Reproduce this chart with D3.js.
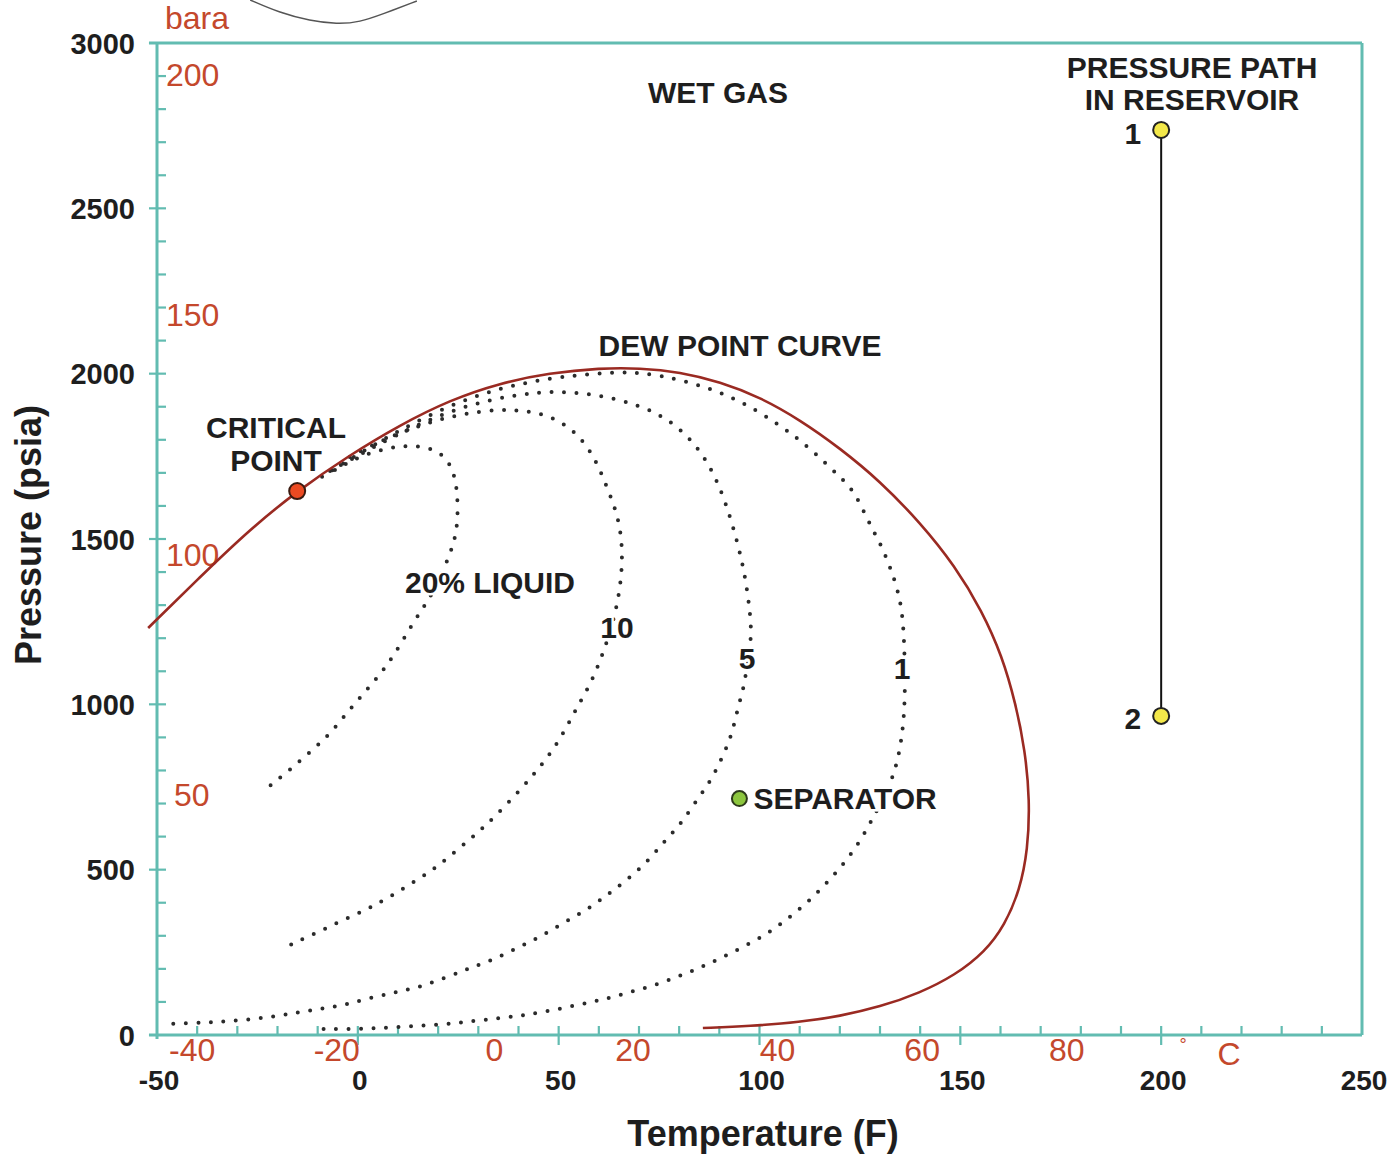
<!DOCTYPE html>
<html><head><meta charset="utf-8">
<script src="https://cdn.jsdelivr.net/npm/d3@7"></script>
<style>
body{margin:0;background:#fff}
svg{display:block}
text{font-family:"Liberation Sans",Arial,Helvetica,sans-serif}
</style>
</head><body>
<svg id="chart" width="1391" height="1157"></svg>
<script>
// ---- tick labels ----
const fTicks = [-50, 0, 50, 100, 150, 200, 250];      // Temperature (F)
const cTicks = [-40, -20, 0, 20, 40, 60, 80];          // deg C
const pTicks = [0, 500, 1000, 1500, 2000, 2500, 3000]; // psia
const barTicks = [50, 100, 150, 200];                  // bara

// ---- curves [T (F), P (psia)] ----
const dewPointCurve = [
  [-52.2,1231],[-39.3,1385],[-26.8,1530],[-15.1,1645],[-2.0,1754],[10.5,1845],[22.9,1920],
  [35.4,1972],[47.8,2002],[60.3,2017],[70.2,2017],[80.2,2005],[90.2,1975],[100.1,1929],
  [110.1,1860],[120.0,1775],[130.0,1675],[139.9,1551],[148.7,1418],[155.4,1282],[160.4,1146],
  [163.8,1001],[166.1,862],[167.3,711],[166.8,559],[164.8,439],[161.1,333],[156.1,251],
  [148.7,181],[139.9,127],[130.0,85],[120.0,57],[110.1,39],[97.6,27],[85.9,21]
];
const liquid20 = [
  [-5.7,1709],[0.5,1751],[8.0,1778],[14.2,1784],[20.0,1769],[23.4,1724],[24.9,1648],[24.9,1527],
  [22.9,1452],[19.7,1361],[17.2,1309],[13.7,1246],[8.8,1143],[4.8,1080],[0.5,1020],[-3.7,959],
  [-7.7,901],[-12.7,847],[-17.6,795],[-22.6,747]
];
const liquid10 = [
  [-2.0,1748],[5.5,1796],[15.5,1845],[25.4,1878],[35.4,1893],[42.9,1887],[49.1,1866],[54.1,1824],
  [57.8,1769],[60.3,1709],[62.3,1648],[64.5,1579],[65.8,1497],[65.8,1397],[64.5,1294],[62.3,1195],
  [58.5,1074],[55.3,1007],[52.3,938],[49.1,871],[45.3,810],[41.1,750],[34.1,659],[29.7,611],
  [24.7,559],[19.7,508],[14.7,469],[8.7,423],[3.5,387],[-2.0,357],[-7.7,324],[-12.7,296],[-16.9,272]
];
const liquid5 = [
  [-6.9,1706],[3.0,1772],[15.5,1851],[27.9,1908],[40.4,1939],[50.3,1948],[60.3,1935],[70.2,1905],
  [77.7,1860],[83.9,1790],[88.2,1709],[91.4,1618],[94.4,1497],[96.4,1391],[97.6,1285],[98.1,1204],
  [96.9,1128],[96.4,1065],[94.6,989],[93.1,907],[90.7,838],[87.7,765],[83.9,702],[80.2,635],
  [76.0,581],[72.0,523],[67.0,469],[62.0,423],[57.0,378],[51.1,339],[45.3,296],[39.6,263],
  [33.6,227],[27.9,203],[22.2,175],[15.5,145],[9.7,130],[3.0,112],[-3.2,91],[-9.4,79],
  [-15.6,67],[-21.9,54],[-28.6,45],[-35.1,39],[-41.3,36],[-49.0,33]
];
const liquid1 = [
  [-8.9,1688],[0.5,1760],[10.5,1830],[22.9,1905],[35.4,1957],[47.8,1987],[60.3,2002],[67.7,2005],
  [75.2,1996],[85.2,1966],[95.1,1920],[105.1,1845],[112.6,1775],[120.0,1688],[123.3,1648],
  [125.8,1588],[128.2,1527],[130.5,1476],[132.5,1415],[134.2,1355],[135.5,1285],[136.0,1195],
  [136.2,1104],[136.2,1013],[135.7,922],[134.5,832],[132.5,756],[130.0,696],[128.2,656],
  [125.0,584],[121.3,523],[117.0,463],[112.6,408],[107.6,357],[102.6,311],[96.9,272],[90.9,236],
  [85.2,203],[79.4,175],[73.2,148],[67.0,127],[60.8,106],[54.6,91],[47.8,73],[41.6,60],
  [35.4,51],[28.7,42],[22.2,33],[10.5,24],[0.5,18],[-9.4,18]
];
const scanArc = [[-26.8,3130],[-19.4,3091],[-11.9,3067],[-5.2,3057],[0.5,3063],[6.3,3088],[14.7,3127]];

const criticalPoint = [-15.1, 1645];
const separatorPoint = [95, 715];
const reservoirPath = [[200, 2737], [200, 965]];
const reservoirLabels = ["1", "2"];

// ---- chart ----
const svg = d3.select("#chart");
const W = 1391, H = 1157;
const x = d3.scaleLinear().domain([-50, 250]).range([157, 1362]);
const y = d3.scaleLinear().domain([0, 3000]).range([1035, 43]);
const fToC = c => c * 9 / 5 + 32;
const barToPsi = b => b * 14.5038;

const teal = "#62bcb1", red = "#c4482c", dewColor = "#9a2a22", ink = "#1e1e1e";
const LAB = 30;

svg.append("rect").attr("width", W).attr("height", H).attr("fill", "#fff");

// scan arc artifact above the chart
svg.append("path").datum(scanArc)
  .attr("d", d3.line().x(d => x(d[0])).y(d => y(d[1])).curve(d3.curveBasis))
  .attr("fill", "none").attr("stroke", "#555").attr("stroke-width", 1.5);

// frame
const g = svg.append("g");
g.append("line").attr("x1", x(-52)).attr("x2", x(250)).attr("y1", y(3000)).attr("y2", y(3000))
  .attr("stroke", teal).attr("stroke-width", 3);
g.append("line").attr("x1", x(250)).attr("x2", x(250)).attr("y1", y(3000)).attr("y2", y(0))
  .attr("stroke", teal).attr("stroke-width", 3);
g.append("line").attr("x1", x(-52)).attr("x2", x(250)).attr("y1", y(0)).attr("y2", y(0))
  .attr("stroke", teal).attr("stroke-width", 3);
g.append("line").attr("x1", x(-50)).attr("x2", x(-50)).attr("y1", y(3000)).attr("y2", y(0) + 4)
  .attr("stroke", teal).attr("stroke-width", 3);

// y ticks (every 100 psia, major every 500)
g.selectAll(".yt").data(d3.range(100, 3000, 100)).join("line")
  .attr("x1", d => d % 500 === 0 ? x(-50) - 8 : x(-50))
  .attr("x2", x(-50) + 9)
  .attr("y1", d => y(d)).attr("y2", d => y(d))
  .attr("stroke", teal).attr("stroke-width", 2.2);
// x ticks (every 10 F, major every 50)
g.selectAll(".xt").data(d3.range(-40, 250, 10)).join("line")
  .attr("x1", d => x(d)).attr("x2", d => x(d))
  .attr("y1", y(0) - 9)
  .attr("y2", d => d % 50 === 0 ? y(0) + 10 : y(0))
  .attr("stroke", teal).attr("stroke-width", 2.2);

// black tick labels
g.selectAll(".pl").data(pTicks).join("text")
  .attr("x", 135).attr("y", d => y(d) + 3)
  .attr("text-anchor", "end").attr("dominant-baseline", "middle")
  .attr("font-size", 29).attr("font-weight", "bold").attr("fill", ink)
  .text(d => d);
g.selectAll(".fl").data(fTicks).join("text")
  .attr("x", d => x(d) + 2).attr("y", 1083)
  .attr("text-anchor", "middle").attr("dominant-baseline", "middle")
  .attr("font-size", 28).attr("font-weight", "bold").attr("fill", ink)
  .text(d => d);

// red secondary labels
g.selectAll(".cl").data(cTicks).join("text")
  .attr("x", d => x(fToC(d)) + (d < 0 ? -5 : d === 0 ? 8 : 2)).attr("y", 1053)
  .attr("text-anchor", "middle").attr("dominant-baseline", "middle")
  .attr("font-size", 32).attr("fill", red)
  .text(d => d);
g.selectAll(".bl").data(barTicks).join("text")
  .attr("x", d => d === 50 ? 174 : 166).attr("y", d => y(barToPsi(d)) + 2)
  .attr("dominant-baseline", "middle")
  .attr("font-size", 32).attr("fill", red)
  .text(d => d);
svg.append("text").attr("x", 165).attr("y", 21).attr("dominant-baseline", "middle")
  .attr("font-size", 32).attr("fill", red).text("bara");
svg.append("text").attr("x", 1183).attr("y", 1046).attr("text-anchor", "middle")
  .attr("dominant-baseline", "middle").attr("font-size", 18).attr("fill", red).text("°");
svg.append("text").attr("x", 1229).attr("y", 1057).attr("text-anchor", "middle")
  .attr("dominant-baseline", "middle").attr("font-size", 32).attr("fill", red).text("C");

// axis titles
svg.append("text").attr("x", 763).attr("y", 1136).attr("text-anchor", "middle")
  .attr("dominant-baseline", "middle").attr("font-size", 36).attr("font-weight", "bold")
  .attr("fill", ink).text("Temperature (F)");
svg.append("text").attr("transform", `translate(31,535) rotate(-90)`).attr("text-anchor", "middle")
  .attr("dominant-baseline", "middle").attr("font-size", 36).attr("font-weight", "bold")
  .attr("fill", ink).text("Pressure (psia)");

// dotted quality lines
const line = d3.line().x(d => x(d[0])).y(d => y(d[1])).curve(d3.curveBasis);
[liquid20, liquid10, liquid5, liquid1].forEach(s => {
  svg.append("path").datum(s).attr("d", line)
    .attr("fill", "none").attr("stroke", "#2b2b2b").attr("stroke-width", 4)
    .attr("stroke-linecap", "round").attr("stroke-dasharray", "0 12.5");
});

// dew point / bubble curve
svg.append("path").datum(dewPointCurve).attr("d", line)
  .attr("fill", "none").attr("stroke", dewColor).attr("stroke-width", 2.6);

// reservoir path
svg.append("line")
  .attr("x1", x(reservoirPath[0][0])).attr("y1", y(reservoirPath[0][1]))
  .attr("x2", x(reservoirPath[1][0])).attr("y2", y(reservoirPath[1][1]))
  .attr("stroke", "#111").attr("stroke-width", 2);
svg.selectAll(".rp").data(reservoirPath).join("circle")
  .attr("cx", d => x(d[0])).attr("cy", d => y(d[1])).attr("r", 8)
  .attr("fill", "#f3e84a").attr("stroke", "#222").attr("stroke-width", 2);
svg.selectAll(".rpl").data(reservoirPath).join("text")
  .attr("x", d => x(d[0]) - 20).attr("y", (d, i) => y(d[1]) + (i === 0 ? 6 : 5))
  .attr("text-anchor", "end").attr("dominant-baseline", "middle")
  .attr("font-size", LAB).attr("font-weight", "bold").attr("fill", ink)
  .text((d, i) => reservoirLabels[i]);

// critical point & separator
svg.append("circle").attr("cx", x(criticalPoint[0])).attr("cy", y(criticalPoint[1])).attr("r", 8)
  .attr("fill", "#ec4a22").attr("stroke", "#3a1a10").attr("stroke-width", 2);
svg.append("circle").attr("cx", x(separatorPoint[0])).attr("cy", y(separatorPoint[1])).attr("r", 7.5)
  .attr("fill", "#8cc63e").attr("stroke", "#2d3a1a").attr("stroke-width", 2);

// annotations (white halo hides dots behind the text, as in the original)
const labels = [
  {t: "WET GAS", x: 718, y: 95},
  {t: "PRESSURE PATH", x: 1192, y: 70},
  {t: "IN RESERVOIR", x: 1192, y: 102},
  {t: "DEW POINT CURVE", x: 740, y: 348},
  {t: "CRITICAL", x: 276, y: 430},
  {t: "POINT", x: 276, y: 463},
  {t: "20% LIQUID", x: 490, y: 585},
  {t: "10", x: 617, y: 630},
  {t: "5", x: 747, y: 661},
  {t: "1", x: 902, y: 671}
];
svg.selectAll(".lab").data(labels).join("text")
  .attr("x", d => d.x).attr("y", d => d.y)
  .attr("text-anchor", "middle").attr("dominant-baseline", "middle")
  .attr("font-size", LAB).attr("font-weight", "bold").attr("fill", ink)
  .attr("stroke", "#fff").attr("stroke-width", 5).attr("paint-order", "stroke")
  .text(d => d.t);
svg.append("text").attr("x", x(separatorPoint[0]) + 14).attr("y", y(separatorPoint[1]) + 3)
  .attr("dominant-baseline", "middle").attr("font-size", LAB).attr("font-weight", "bold")
  .attr("fill", ink).attr("stroke", "#fff").attr("stroke-width", 5).attr("paint-order", "stroke")
  .text("SEPARATOR");
</script>
</body></html>
